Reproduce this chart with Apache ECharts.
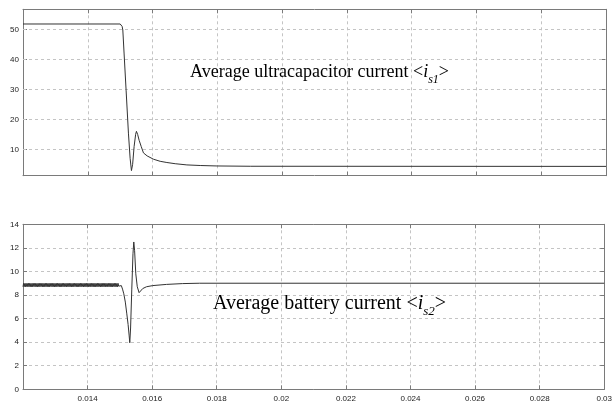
<!DOCTYPE html>
<html>
<head>
<meta charset="utf-8">
<script src="https://cdn.jsdelivr.net/npm/echarts@6/dist/echarts.min.js"></script>
<style>
html,body{margin:0;padding:0;background:#fff;}
#c{width:615px;height:405px;}
</style>
</head>
<body>
<div id="c"></div>
<script>
// ---- data ----
var xTicks = [0.014, 0.016, 0.018, 0.02, 0.022, 0.024, 0.026, 0.028, 0.03];
var topYTicks = [10, 20, 30, 40, 50];
var botYTicks = [0, 2, 4, 6, 8, 10, 12, 14];

// ultracapacitor current <is1> : [time, value]
var ucTime = [0.012, 0.01500, 0.01506, 0.015082, 0.015122, 0.015184, 0.015255, 0.015307, 0.015348, 0.015385, 0.015431, 0.015478, 0.015502, 0.015539, 0.015586, 0.015648, 0.015719, 0.015833, 0.016028, 0.016235, 0.016442, 0.016699, 0.01706, 0.017471, 0.017988, 0.019017, 0.03];
var ucValue = [51.8, 51.8, 51.0, 49.8, 41.8, 29.5, 15.4, 7.0, 2.9, 5.0, 11.0, 15.0, 16.0, 15.0, 13.0, 11.0, 8.8, 7.8, 6.7, 6.0, 5.6, 5.2, 4.8, 4.6, 4.45, 4.35, 4.3];

// battery current <is2> : switching ripple before the transient (sampled every rippleStep)
var rippleStart = 0.012;
var rippleStep = 0.00001875;
var rippleValue = [
  8.70, 8.99, 8.71, 8.98, 8.70, 8.99, 8.72, 8.98, 8.70, 8.99, 8.71, 8.99, 8.70, 8.98, 8.71, 8.99, 8.70, 8.99, 8.72, 8.98,
  8.70, 8.99, 8.71, 8.98, 8.70, 8.99, 8.71, 8.99, 8.70, 8.98, 8.72, 8.99, 8.70, 8.99, 8.71, 8.98, 8.70, 8.99, 8.71, 8.99,
  8.70, 8.98, 8.71, 8.99, 8.70, 8.99, 8.72, 8.98, 8.70, 8.99, 8.71, 8.99, 8.70, 8.98, 8.71, 8.99, 8.70, 8.99, 8.72, 8.98,
  8.70, 8.99, 8.71, 8.98, 8.70, 8.99, 8.71, 8.99, 8.70, 8.98, 8.72, 8.99, 8.70, 8.99, 8.71, 8.98, 8.70, 8.99, 8.71, 8.99,
  8.70, 8.98, 8.71, 8.99, 8.70, 8.99, 8.72, 8.98, 8.70, 8.99, 8.71, 8.99, 8.70, 8.98, 8.71, 8.99, 8.70, 8.99, 8.72, 8.98,
  8.70, 8.99, 8.71, 8.98, 8.70, 8.99, 8.71, 8.99, 8.70, 8.98, 8.72, 8.99, 8.70, 8.99, 8.71, 8.98, 8.70, 8.99, 8.71, 8.99,
  8.70, 8.98, 8.71, 8.99, 8.70, 8.99, 8.72, 8.98, 8.70, 8.99, 8.71, 8.99, 8.70, 8.98, 8.71, 8.99, 8.70, 8.99, 8.72, 8.98,
  8.70, 8.99, 8.71, 8.98, 8.70, 8.99, 8.71, 8.99, 8.70, 8.98, 8.72, 8.99, 8.70, 8.99, 8.71, 8.98, 8.70, 8.99, 8.75, 8.88
];
var batTime = [0.015, 0.015045, 0.015082, 0.015122, 0.015169, 0.015215, 0.015255, 0.015286, 0.015307, 0.015332, 0.015369, 0.015406, 0.015431, 0.015456, 0.015493, 0.015539, 0.015595, 0.015648, 0.015709, 0.015824, 0.016019, 0.016442, 0.016946, 0.017471, 0.03];
var batValue = [8.85, 8.8, 8.5, 8.1, 7.4, 6.4, 5.5, 4.6, 3.95, 5.2, 8.5, 11.5, 12.5, 11.8, 9.8, 8.7, 8.2, 8.35, 8.55, 8.7, 8.8, 8.9, 8.97, 9.0, 9.0];

// ---- build ----
var ucData = ucTime.map(function (t, i) { return [t, ucValue[i]]; });
var batData = rippleValue.map(function (v, i) { return [rippleStart + i * rippleStep, v]; })
  .concat(batTime.map(function (t, i) { return [t, batValue[i]]; }));

var frameColor = '#7a7a7a';
var gridColor = '#c4c4c4';
var lineColor = '#333333';
var labelStyle = { color: '#222', fontSize: 8, fontFamily: 'Liberation Sans, Arial, sans-serif' };
var serif = 'Liberation Serif, Times New Roman, serif';

function xAx(gridIndex, pos, showLabels) {
  return {
    type: 'value', gridIndex: gridIndex, position: pos,
    min: 0.012, max: 0.03, interval: 0.002,
    axisLine: { show: true, onZero: false, lineStyle: { color: frameColor, width: 1 } },
    axisTick: { show: true, inside: true, length: 4, lineStyle: { color: frameColor } },
    axisLabel: showLabels ? Object.assign({ show: true, margin: 5, showMinLabel: false,
      formatter: function (v) { return String(+v.toFixed(3)); } }, labelStyle) : { show: false },
    splitLine: { show: pos === 'bottom', lineStyle: { color: gridColor, type: [3, 3], width: 1 } }
  };
}

function rich(size) {
  return {
    n: { fontFamily: serif, fontSize: size, lineHeight: 28, fill: '#000' },
    i: { fontFamily: serif, fontSize: size, fontStyle: 'italic', lineHeight: 28, fill: '#000' },
    s: { fontFamily: serif, fontSize: Math.round(size * 0.65), fontStyle: 'italic', lineHeight: 15, verticalAlign: 'bottom', fill: '#000' }
  };
}

var option = {
  animation: false,
  backgroundColor: '#fff',
  grid: [
    { left: 23, right: 9, top: 9.3, height: 166.4, show: false },
    { left: 23, right: 9, top: 224.3, height: 165, show: false }
  ],
  xAxis: [xAx(0, 'bottom', false), xAx(0, 'top', false), xAx(1, 'bottom', true), xAx(1, 'top', false)],
  yAxis: [
    { type: 'value', gridIndex: 0, position: 'left', min: 1.2, max: 56.7,
      axisLine: { show: true, lineStyle: { color: frameColor } },
      axisTick: { show: true, inside: true, length: 4, customValues: topYTicks, lineStyle: { color: frameColor } },
      axisLabel: Object.assign({ show: true, margin: 4, customValues: topYTicks }, labelStyle),
      splitLine: { show: false } },
    { type: 'value', gridIndex: 0, position: 'right', min: 1.2, max: 56.7,
      axisLine: { show: true, lineStyle: { color: frameColor } },
      axisTick: { show: true, inside: true, length: 4, customValues: topYTicks, lineStyle: { color: frameColor } },
      axisLabel: { show: false }, splitLine: { show: false } },
    { type: 'value', gridIndex: 1, position: 'left', min: 0, max: 14, interval: 2,
      axisLine: { show: true, lineStyle: { color: frameColor } },
      axisTick: { show: true, inside: true, length: 4, lineStyle: { color: frameColor } },
      axisLabel: Object.assign({ show: true, margin: 4 }, labelStyle),
      splitLine: { show: true, lineStyle: { color: gridColor, type: [3, 3] } } },
    { type: 'value', gridIndex: 1, position: 'right', min: 0, max: 14, interval: 2,
      axisLine: { show: true, lineStyle: { color: frameColor } },
      axisTick: { show: true, inside: true, length: 4, lineStyle: { color: frameColor } },
      axisLabel: { show: false }, splitLine: { show: false } }
  ],
  series: [
    { type: 'line', xAxisIndex: 0, yAxisIndex: 0, data: ucData, showSymbol: false, symbol: 'none',
      lineStyle: { color: lineColor, width: 1 }, z: 5,
      markLine: { silent: true, symbol: 'none', label: { show: false },
        lineStyle: { color: gridColor, type: [3, 3], width: 1 },
        data: topYTicks.map(function (v) { return { yAxis: v }; }) } },
    { type: 'line', xAxisIndex: 2, yAxisIndex: 2, data: batData, showSymbol: false, symbol: 'none',
      lineStyle: { color: lineColor, width: 1 }, z: 5 }
  ],
  graphic: [
    { type: 'text', left: 190, top: 63, z: 100,
      style: { text: '{n|Average ultracapacitor current <}{i|i}{s|s1}{n|>}', fill: '#000', rich: rich(18) } },
    { type: 'text', left: 213, top: 294, z: 100,
      style: { text: '{n|Average battery current <}{i|i}{s|s2}{n|>}', fill: '#000', rich: rich(20) } }
  ]
};

var chart = echarts.init(document.getElementById('c'), null, { renderer: 'canvas' });
chart.setOption(option);
</script>
</body>
</html>
